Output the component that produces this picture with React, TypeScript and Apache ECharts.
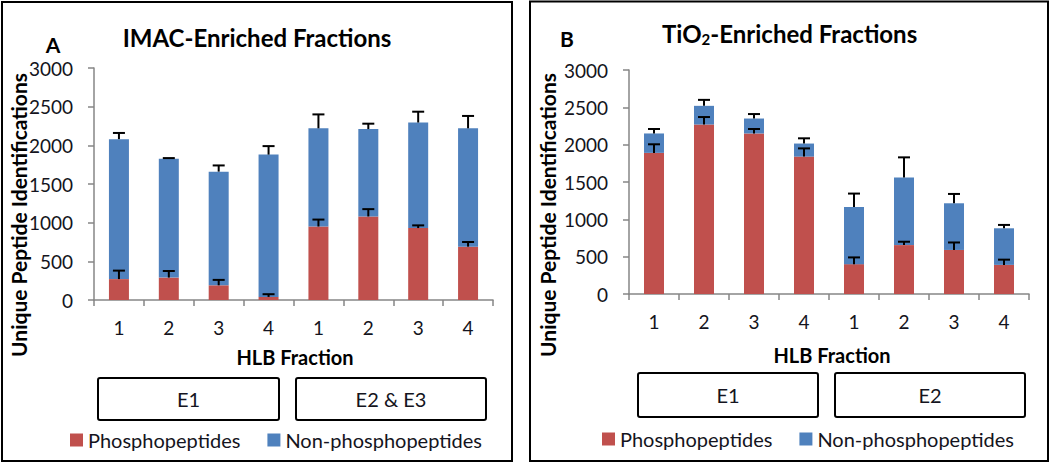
import React, { useEffect, useRef } from "react";
import * as echarts from "echarts";

// ---- data ----
const fractions = ["1", "2", "3", "4", "1", "2", "3", "4"];
const imacGroups = ["E1", "E1", "E1", "E1", "E2 & E3", "E2 & E3", "E2 & E3", "E2 & E3"];
const tioGroups = ["E1", "E1", "E1", "E1", "E2", "E2", "E2", "E2"];

const imacPhospho = [270, 290, 190, 40, 950, 1080, 930, 690];
const imacNonPhospho = [1810, 1535, 1470, 1840, 1270, 1130, 1365, 1530];
const imacPhosphoErr = [110, 85, 70, 35, 90, 95, 35, 60];
const imacTotalErr = [80, 10, 80, 110, 180, 70, 140, 160];

const tioPhospho = [1890, 2270, 2150, 1840, 400, 655, 590, 390];
const tioNonPhospho = [260, 250, 200, 175, 765, 905, 625, 490];
const tioPhosphoErr = [115, 100, 60, 110, 90, 45, 100, 70];
const tioTotalErr = [60, 80, 60, 70, 180, 270, 125, 45];

const yTicks = [0, 500, 1000, 1500, 2000, 2500, 3000];

const RED = "#C0504D";
const BLUE = "#4F81BD";
const AXIS = "#868686";
const FONT = "Lato";
const TXT = "#141420";

function cats(groups: string[]) {
  return fractions.map((f, i) => groups[i] + "|" + f);
}

function errData(ph: number[], non: number[], phErr: number[], totErr: number[]) {
  const out: number[][] = [];
  ph.forEach((p, i) => {
    out.push([i, p, p + phErr[i]]);
    const t = p + non[i];
    out.push([i, t, t + totErr[i]]);
  });
  return out;
}

const renderErr = (params: any, api: any) => {
  const base = api.coord([api.value(0), api.value(1)]);
  const top = api.coord([api.value(0), api.value(2)]);
  const cap = 6;
  return {
    type: "group",
    children: [
      {
        type: "line",
        shape: { x1: base[0], y1: base[1], x2: top[0], y2: top[1] },
        style: { stroke: "#000", lineWidth: 2 },
      },
      {
        type: "line",
        shape: { x1: top[0] - cap, y1: top[1], x2: top[0] + cap, y2: top[1] },
        style: { stroke: "#000", lineWidth: 2 },
      },
    ],
  };
};

export default function App() {
  const ref = useRef<HTMLDivElement>(null);
  useEffect(() => {
    document.body.style.margin = "0";
    const chart = echarts.init(ref.current!, null, { renderer: "svg" });

    const xAxisBase = (gi: number, groups: string[]) => ({
      type: "category",
      gridIndex: gi,
      data: cats(groups),
      boundaryGap: true,
      axisLine: { lineStyle: { color: AXIS, width: 1.5 } },
      axisTick: { show: true, interval: 0, length: 6, lineStyle: { color: AXIS, width: 1.5 } },
      axisLabel: {
        interval: 0,
        margin: 18,
        fontFamily: FONT,
        fontSize: 19,
        color: TXT,
        formatter: (v: string) => v.split("|")[1],
      },
    });
    const yAxisBase = (gi: number) => ({
      type: "value",
      gridIndex: gi,
      min: 0,
      max: 3000,
      interval: 500,
      splitLine: { show: false },
      axisLine: { show: true, lineStyle: { color: AXIS, width: 1.5 } },
      axisTick: { show: true, length: 6, lineStyle: { color: AXIS, width: 1.5 } },
      axisLabel: {
        margin: 21,
        fontFamily: FONT,
        fontSize: 19,
        color: TXT,
        formatter: (v: number) => (yTicks.includes(v) ? String(v) : ""),
      },
    });

    const titleStyle = (text: string, x: number, y: number, size: number, weight = "bold") => ({
      type: "text",
      x,
      y,
      style: {
        text,
        fontFamily: FONT,
        fontSize: size,
        fontWeight: weight,
        fill: "#000",
        align: "center",
        verticalAlign: "middle",
      },
    });

    const box = (x: number, y: number, w: number, h: number, label: string) => ({
      type: "group",
      children: [
        {
          type: "rect",
          shape: { x, y, width: w, height: h, r: 2 },
          style: { fill: "#fff", stroke: "#000", lineWidth: 2 },
        },
        {
          type: "text",
          x: x + w / 2,
          y: y + h / 2,
          style: {
            text: label,
            fontFamily: FONT,
            fontSize: 20,
            fill: TXT,
            align: "center",
            verticalAlign: "middle",
          },
        },
      ],
    });

    const yName = (x: number, y: number) => ({
      type: "text",
      x,
      y,
      rotation: Math.PI / 2,
      style: {
        text: "Unique Peptide Identifications",
        fontFamily: FONT,
        fontSize: 21,
        fontWeight: "bold",
        fill: "#000",
        align: "center",
        verticalAlign: "middle",
      },
    });

    const legendBase = (left: number, top: number) => ({
      left,
      top,
      orient: "horizontal",
      icon: "rect",
      itemWidth: 13,
      itemHeight: 13,
      itemGap: 27,
      textStyle: { fontFamily: FONT, fontSize: 20, color: TXT, padding: [0, 0, 0, 0] },
      data: ["Phosphopeptides", "Non-phosphopeptides"],
      selectedMode: false,
    });

    chart.setOption({
      animation: false,
      backgroundColor: "#fff",
      grid: [
        { left: 94, top: 68, width: 399, height: 232 },
        { left: 629, top: 70, width: 400, height: 224 },
      ],
      xAxis: [xAxisBase(0, imacGroups), xAxisBase(1, tioGroups)],
      yAxis: [yAxisBase(0), yAxisBase(1)],
      legend: [legendBase(65, 425), legendBase(597, 424)],
      series: [
        {
          name: "Phosphopeptides",
          type: "bar",
          stack: "a",
          xAxisIndex: 0,
          yAxisIndex: 0,
          barWidth: 20,
          itemStyle: { color: RED },
          data: imacPhospho,
        },
        {
          name: "Non-phosphopeptides",
          type: "bar",
          stack: "a",
          xAxisIndex: 0,
          yAxisIndex: 0,
          barWidth: 20,
          itemStyle: { color: BLUE },
          data: imacNonPhospho,
        },
        {
          name: "Phosphopeptides",
          type: "bar",
          stack: "b",
          xAxisIndex: 1,
          yAxisIndex: 1,
          barWidth: 20,
          itemStyle: { color: RED },
          data: tioPhospho,
        },
        {
          name: "Non-phosphopeptides",
          type: "bar",
          stack: "b",
          xAxisIndex: 1,
          yAxisIndex: 1,
          barWidth: 20,
          itemStyle: { color: BLUE },
          data: tioNonPhospho,
        },
        {
          type: "custom",
          xAxisIndex: 0,
          yAxisIndex: 0,
          z: 10,
          renderItem: renderErr,
          data: errData(imacPhospho, imacNonPhospho, imacPhosphoErr, imacTotalErr),
        },
        {
          type: "custom",
          xAxisIndex: 1,
          yAxisIndex: 1,
          z: 10,
          renderItem: renderErr,
          data: errData(tioPhospho, tioNonPhospho, tioPhosphoErr, tioTotalErr),
        },
      ],
      graphic: [
        {
          type: "rect",
          shape: { x: 2, y: 2, width: 510, height: 459 },
          style: { fill: "none", stroke: "#000", lineWidth: 2 },
        },
        {
          type: "rect",
          shape: { x: 530, y: 1.5, width: 518, height: 459.5 },
          style: { fill: "none", stroke: "#000", lineWidth: 2 },
        },
        titleStyle("IMAC-Enriched Fractions", 257, 37, 24),
        titleStyle("A", 53, 44, 21),
        titleStyle("B", 567, 38, 21),
        {
          type: "text",
          x: 662,
          y: 33,
          style: {
            text: "TiO{sub|2}-Enriched Fractions",
            rich: { sub: { fontSize: 15, fontWeight: "bold", fontFamily: FONT, padding: [11, 0, 0, 0] } },
            fontFamily: FONT,
            fontSize: 24,
            fontWeight: "bold",
            fill: "#000",
            align: "left",
            verticalAlign: "middle",
          },
        },
        yName(18, 215),
        yName(547, 215),
        titleStyle("HLB Fraction", 295, 357, 20),
        titleStyle("HLB Fraction", 832, 355, 20),
        box(98, 378, 181, 42, "E1"),
        box(296, 378, 190, 42, "E2 & E3"),
        box(638, 373, 180, 44, "E1"),
        box(835, 373, 190, 44, "E2"),
      ],
    });
    return () => chart.dispose();
  }, []);
  return (
    <div
      ref={ref}
      style={{ position: "fixed", left: 0, top: 0, width: 1050, height: 464 }}
    />
  );
}
